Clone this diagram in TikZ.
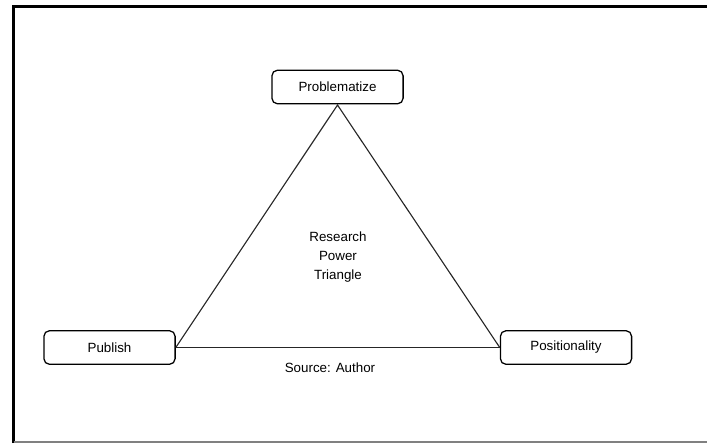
\documentclass[tikz,border=0pt]{standalone}
\usepackage{fontspec}
\setmainfont{Liberation Sans}
\usepackage{tikz}

\begin{document}
\begin{tikzpicture}[x=0.025cm,y=-0.025cm,
		corner/.style={draw,rounded corners=4pt,line width=0.9pt,minimum width=3.28cm,minimum height=0.84cm,font=\fontsize{9.5}{11}\selectfont},
		side/.style={line width=0.8pt,draw=black!85},
		label/.style={font=\fontsize{9.5}{13.5}\selectfont,align=center}]
			\useasboundingbox (0,0) rectangle (707,443);
			% frame
			\draw[line width=2.2pt] (13.5,443) -- (13.5,6.5) -- (707,6.5);
			\draw[gray,line width=0.8pt] (13.5,442) -- (707,442);
			% the three corners
			\node[corner] (prob) at (337.5,87) {Problematize};
			\node[corner] (pub) at (109.5,347.5) {Publish};
			\node[corner] (pos) at (566,347.5) {Positionality};
			\coordinate (apex) at (337.5,105);
			\draw[side] (pub.east) -- (apex) -- (pos.west);
			\draw[side] (pub.east) -- (pos.west);
			\node[label] (title) at (338,257) {Research\\Power\\Triangle};
			\node[label] (src) at (330,368) {Source: Author};
		\end{tikzpicture}
\end{document}
